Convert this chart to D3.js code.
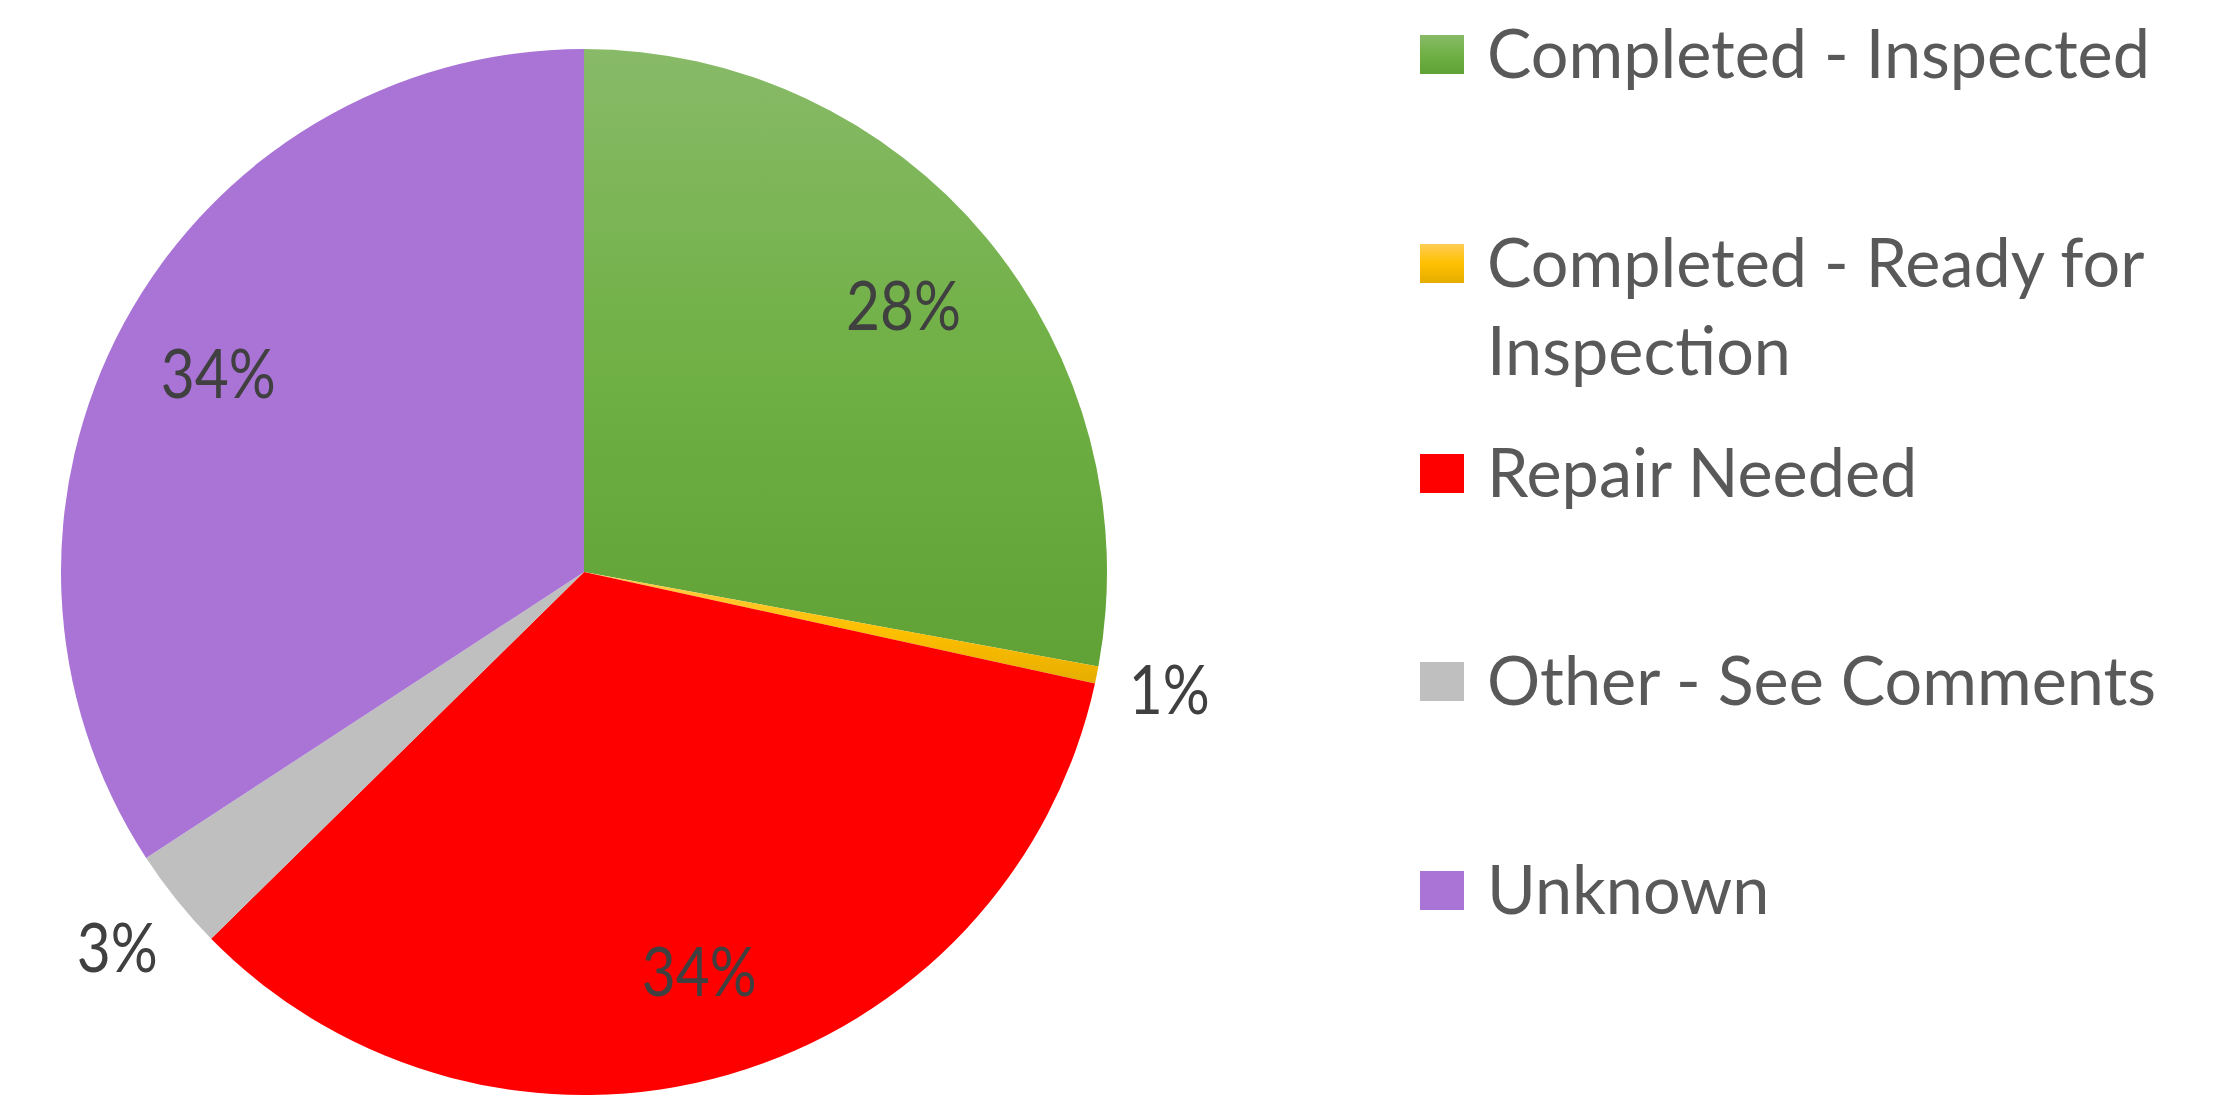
<html>
  <head>
    <meta charset="utf-8">
    <style>
      body { margin: 0; background: #fff; }
      text { font-family: Lato, "Open Sans", sans-serif; }
    </style>
  </head>
  <body>
    <script src="https://cdn.jsdelivr.net/npm/d3@7"></script>
    <svg width="2213" height="1107" id="svg1"></svg>
    <script>

    // data (counts, n = 190)
    var categories = ["Completed - Inspected", "Completed - Ready for Inspection", "Repair Needed", "Other - See Comments", "Unknown"];
    var counts = [53, 1, 65, 6, 65];
    var legendLines = [["Completed - Inspected"], ["Completed - Ready for", "Inspection"], ["Repair Needed"], ["Other - See Comments"], ["Unknown"]];

    var colors = ["url(#gGreen)", "url(#gYellow)", "#ff0000", "#bfbfbf", "#a974d6"];

    var svg = d3.select("#svg1"),
        cx = 584, cy = 572, radius = 523;

    var defs = svg.append("defs");
    function grad(id, stops) {
      var g = defs.append("linearGradient").attr("id", id)
        .attr("x1", 0).attr("y1", 0).attr("x2", 0).attr("y2", 1);
      stops.forEach(function(s) {
        g.append("stop").attr("offset", s[0]).attr("stop-color", s[1]);
      });
    }
    grad("gGreen", [[0, "#88ba68"], [0.5, "#70b045"], [1, "#60a236"]]);
    grad("gYellow", [[0, "#ffcd55"], [0.5, "#ffc000"], [1, "#e6ad00"]]);

    var total = d3.sum(counts);
    var data = categories.map(function(c, i) { return { name: c, value: counts[i], i: i }; });

    var pie = d3.pie().sort(null).value(function(d) { return d.value; });
    var arc = d3.arc().innerRadius(0).outerRadius(radius);
    var arcs = pie(data);

    var g = svg.append("g").attr("transform", "translate(" + cx + "," + cy + ")");

    g.selectAll(".slice")
      .data(arcs)
      .enter().append("path")
      .attr("class", "slice")
      .attr("d", arc)
      .attr("fill", function(d) { return colors[d.data.i]; });

    // the original face is narrower than Lato, squeeze to the measured widths
    function squeeze(str, size, target) {
      var probe = svg.append("text").attr("font-size", size).text(str);
      var w = probe.node().getComputedTextLength();
      probe.remove();
      return target / w;
    }
    var sxLegend = squeeze("Completed - Inspected", 67, 663);
    var sxLabel = squeeze("3%", 67, 81);

    var fmtUp = function(v) { var p = v / total * 100; return (p < 1 ? 1 : Math.round(p)) + "%"; };

    arcs.forEach(function(d) {
      var share = d.data.value / total;
      var mid = (d.startAngle + d.endAngle) / 2;
      var s = Math.sin(mid), c = -Math.cos(mid);
      var r;
      if (share >= 0.05) {
        r = radius * 0.795;
      } else {
        r = radius + 30 + Math.abs(s) * 40 + Math.abs(c) * 24;
      }
      g.append("g")
        .attr("transform", "translate(" + (s * r) + "," + (c * r) + ") scale(" + sxLabel + ",1)")
        .append("text")
        .attr("text-anchor", "middle")
        .attr("dy", "0.36em")
        .attr("font-size", 67)
        .attr("fill", "#404040")
        .text(fmtUp(d.data.value));
    });

    // legend
    var legendY = [78, 287, 497, 705, 914];
    var lg = svg.append("g");
    legendLines.forEach(function(lines, i) {
      lg.append("rect")
        .attr("x", 1420).attr("y", legendY[i] - 43)
        .attr("width", 44).attr("height", 39)
        .attr("fill", colors[i]);
      lines.forEach(function(t, j) {
        lg.append("g")
          .attr("transform", "translate(1487," + (legendY[i] + j * 88) + ") scale(" + sxLegend + ",1)")
          .append("text")
          .attr("font-size", 67)
          .attr("fill", "#595959")
          .text(t);
      });
    });

    </script>
  </body>
</html>
